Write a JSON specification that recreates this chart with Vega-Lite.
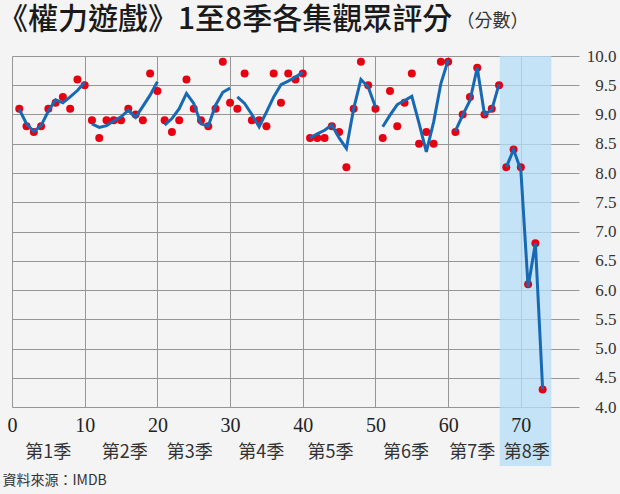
{
  "$schema": "https://vega.github.io/schema/vega-lite/v6.json",
  "width": 567,
  "height": 351,
  "autosize": {"type": "none"},
  "padding": {"left": 12, "top": 56, "right": 41, "bottom": 87},
  "background": "#f4f4f4",
  "title": {
    "text": "《權力遊戲》1至8季各集觀眾評分",
    "anchor": "start",
    "frame": "group",
    "font": "Noto Sans CJK TC",
    "fontSize": 30,
    "fontWeight": 500,
    "color": "#1a1a1a",
    "dx": -14,
    "dy": 43,
    "offset": 20
  },
  "config": {
    "view": {"stroke": null},
    "axis": {"gridColor": "#969696", "gridWidth": 1, "gridOpacity": 1}
  },
  "datasets": {
    "hl": [{"x0": 67.1, "x1": 74.2, "y0": 10, "y1": 2.99}],
    "seasons": [
      {"label": "第1季", "x": 4.98, "y": 3.21},
      {"label": "第2季", "x": 15.5, "y": 3.21},
      {"label": "第3季", "x": 24.45, "y": 3.21},
      {"label": "第4季", "x": 34.3, "y": 3.21},
      {"label": "第5季", "x": 43.8, "y": 3.21},
      {"label": "第6季", "x": 54.2, "y": 3.21},
      {"label": "第7季", "x": 63.3, "y": 3.21},
      {"label": "第8季", "x": 70.8, "y": 3.21}
    ],
    "ep": [
      {"ep": 1, "season": "S1", "rating": 9.1, "trend": 9.09},
      {"ep": 2, "season": "S1", "rating": 8.8, "trend": 8.84},
      {"ep": 3, "season": "S1", "rating": 8.7, "trend": 8.71},
      {"ep": 4, "season": "S1", "rating": 8.8, "trend": 8.81},
      {"ep": 5, "season": "S1", "rating": 9.1, "trend": 9.06},
      {"ep": 6, "season": "S1", "rating": 9.2, "trend": 9.25},
      {"ep": 7, "season": "S1", "rating": 9.3, "trend": 9.2},
      {"ep": 8, "season": "S1", "rating": 9.1, "trend": 9.3},
      {"ep": 9, "season": "S1", "rating": 9.6, "trend": 9.41},
      {"ep": 10, "season": "S1", "rating": 9.5, "trend": 9.55},
      {"ep": 11, "season": "S2", "rating": 8.9, "trend": 8.84},
      {"ep": 12, "season": "S2", "rating": 8.6, "trend": 8.78},
      {"ep": 13, "season": "S2", "rating": 8.9, "trend": 8.81},
      {"ep": 14, "season": "S2", "rating": 8.9, "trend": 8.89},
      {"ep": 15, "season": "S2", "rating": 8.9, "trend": 8.96},
      {"ep": 16, "season": "S2", "rating": 9.1, "trend": 9.07},
      {"ep": 17, "season": "S2", "rating": 9.0, "trend": 8.95},
      {"ep": 18, "season": "S2", "rating": 8.9, "trend": 9.14},
      {"ep": 19, "season": "S2", "rating": 9.7, "trend": 9.33},
      {"ep": 20, "season": "S2", "rating": 9.4, "trend": 9.56},
      {"ep": 21, "season": "S3", "rating": 8.9, "trend": 8.82},
      {"ep": 22, "season": "S3", "rating": 8.7, "trend": 8.93},
      {"ep": 23, "season": "S3", "rating": 8.9, "trend": 9.1},
      {"ep": 24, "season": "S3", "rating": 9.6, "trend": 9.36},
      {"ep": 25, "season": "S3", "rating": 9.1, "trend": 9.19},
      {"ep": 26, "season": "S3", "rating": 8.9, "trend": 8.84},
      {"ep": 27, "season": "S3", "rating": 8.8, "trend": 8.8},
      {"ep": 28, "season": "S3", "rating": 9.1, "trend": 9.16},
      {"ep": 29, "season": "S3", "rating": 9.9, "trend": 9.38},
      {"ep": 30, "season": "S3", "rating": 9.2, "trend": 9.45},
      {"ep": 31, "season": "S4", "rating": 9.1, "trend": 9.3},
      {"ep": 32, "season": "S4", "rating": 9.7, "trend": 9.19},
      {"ep": 33, "season": "S4", "rating": 8.9, "trend": 9.0},
      {"ep": 34, "season": "S4", "rating": 8.9, "trend": 8.79},
      {"ep": 35, "season": "S4", "rating": 8.8, "trend": 9.04},
      {"ep": 36, "season": "S4", "rating": 9.7, "trend": 9.3},
      {"ep": 37, "season": "S4", "rating": 9.2, "trend": 9.51},
      {"ep": 38, "season": "S4", "rating": 9.7, "trend": 9.57},
      {"ep": 39, "season": "S4", "rating": 9.6, "trend": 9.64},
      {"ep": 40, "season": "S4", "rating": 9.7, "trend": 9.72},
      {"ep": 41, "season": "S5", "rating": 8.6, "trend": 8.6},
      {"ep": 42, "season": "S5", "rating": 8.6, "trend": 8.67},
      {"ep": 43, "season": "S5", "rating": 8.6, "trend": 8.73},
      {"ep": 44, "season": "S5", "rating": 8.8, "trend": 8.82},
      {"ep": 45, "season": "S5", "rating": 8.7, "trend": 8.6},
      {"ep": 46, "season": "S5", "rating": 8.1, "trend": 8.42},
      {"ep": 47, "season": "S5", "rating": 9.1, "trend": 9.1},
      {"ep": 48, "season": "S5", "rating": 9.9, "trend": 9.6},
      {"ep": 49, "season": "S5", "rating": 9.5, "trend": 9.47},
      {"ep": 50, "season": "S5", "rating": 9.1, "trend": 9.13},
      {"ep": 51, "season": "S6", "rating": 8.6, "trend": 8.79},
      {"ep": 52, "season": "S6", "rating": 9.4, "trend": 8.99},
      {"ep": 53, "season": "S6", "rating": 8.8, "trend": 9.17},
      {"ep": 54, "season": "S6", "rating": 9.2, "trend": 9.24},
      {"ep": 55, "season": "S6", "rating": 9.7, "trend": 9.31},
      {"ep": 56, "season": "S6", "rating": 8.5, "trend": 8.85},
      {"ep": 57, "season": "S6", "rating": 8.7, "trend": 8.36},
      {"ep": 58, "season": "S6", "rating": 8.5, "trend": 8.87},
      {"ep": 59, "season": "S6", "rating": 9.9, "trend": 9.53},
      {"ep": 60, "season": "S6", "rating": 9.9, "trend": 9.93},
      {"ep": 61, "season": "S7", "rating": 8.7, "trend": 8.72},
      {"ep": 62, "season": "S7", "rating": 9.0, "trend": 8.99},
      {"ep": 63, "season": "S7", "rating": 9.3, "trend": 9.24},
      {"ep": 64, "season": "S7", "rating": 9.8, "trend": 9.8},
      {"ep": 65, "season": "S7", "rating": 9.0, "trend": 9.0},
      {"ep": 66, "season": "S7", "rating": 9.1, "trend": 9.08},
      {"ep": 67, "season": "S7", "rating": 9.5, "trend": 9.52},
      {"ep": 68, "season": "S8", "rating": 8.1, "trend": 8.1},
      {"ep": 69, "season": "S8", "rating": 8.4, "trend": 8.4},
      {"ep": 70, "season": "S8", "rating": 8.1, "trend": 8.05},
      {"ep": 71, "season": "S8", "rating": 6.1, "trend": 6.05},
      {"ep": 72, "season": "S8", "rating": 6.8, "trend": 6.8},
      {"ep": 73, "season": "S8", "rating": 4.3, "trend": 4.3}
    ]
  },
  "layer": [
    {
      "data": {"name": "hl"},
      "mark": {"type": "rect", "color": "#b6ddf8", "opacity": 0.75},
      "encoding": {
        "x": {
          "field": "x0", "type": "quantitative",
          "scale": {"domain": [0, 78], "nice": false, "zero": false},
          "axis": {"orient": "bottom", "values": [0, 10, 20, 30, 40, 50, 60, 70], "grid": true, "labels": false, "ticks": false, "domain": false, "title": null, "zindex": 0}
        },
        "x2": {"field": "x1"},
        "y": {
          "field": "y0", "type": "quantitative",
          "scale": {"domain": [4, 10], "nice": false, "zero": false},
          "axis": {
            "orient": "right",
            "values": [4, 4.5, 5, 5.5, 6, 6.5, 7, 7.5, 8, 8.5, 9, 9.5, 10],
            "format": ".1f",
            "grid": true, "ticks": false, "domain": false, "labelFlush": false, "labelOverlap": false,
            "labelAlign": "right", "labelPadding": 37,
            "labelFont": "Liberation Sans Narrow", "labelFontSize": 17, "labelColor": "#333333",
            "title": "（分數）", "titleAngle": 0, "titleX": -123, "titleY": -35,
            "titleAlign": "left", "titleBaseline": "middle",
            "titleFont": "Noto Sans CJK TC", "titleFontSize": 18, "titleFontWeight": "normal", "titleColor": "#333333",
            "zindex": 0
          }
        },
        "y2": {"field": "y1"}
      }
    },
    {
      "data": {"name": "ep"},
      "mark": {"type": "circle", "size": 64, "color": "#e60012", "opacity": 1},
      "encoding": {
        "x": {
          "field": "ep", "type": "quantitative",
          "axis": {
            "orient": "bottom", "values": [0, 10, 20, 30, 40, 50, 60, 70], "grid": false, "ticks": false, "domain": false, "labelFlush": false,
            "labelFont": "Liberation Sans Narrow", "labelFontSize": 20, "labelColor": "#222222", "labelPadding": 8,
            "title": "資料來源：IMDB", "titleX": -10, "titleY": 73, "titleAlign": "left", "titleBaseline": "middle",
            "titleFont": "Noto Sans CJK TC", "titleFontSize": 14, "titleFontWeight": "normal", "titleColor": "#333333",
            "zindex": 1
          }
        },
        "y": {"field": "rating", "type": "quantitative", "axis": null}
      }
    },
    {
      "data": {"name": "ep"},
      "mark": {"type": "line", "color": "#1769b4", "strokeWidth": 3},
      "encoding": {
        "x": {"field": "ep", "type": "quantitative", "axis": null},
        "y": {"field": "trend", "type": "quantitative", "axis": null},
        "detail": {"field": "season"}
      }
    },
    {
      "data": {"name": "seasons"},
      "mark": {"type": "text", "font": "Noto Sans CJK TC", "fontSize": 18, "color": "#333333", "align": "center", "baseline": "middle"},
      "encoding": {
        "x": {"field": "x", "type": "quantitative", "axis": null},
        "y": {"field": "y", "type": "quantitative", "axis": null},
        "text": {"field": "label"}
      }
    }
  ],
  "resolve": {"axis": {"x": "independent", "y": "independent"}}
}
